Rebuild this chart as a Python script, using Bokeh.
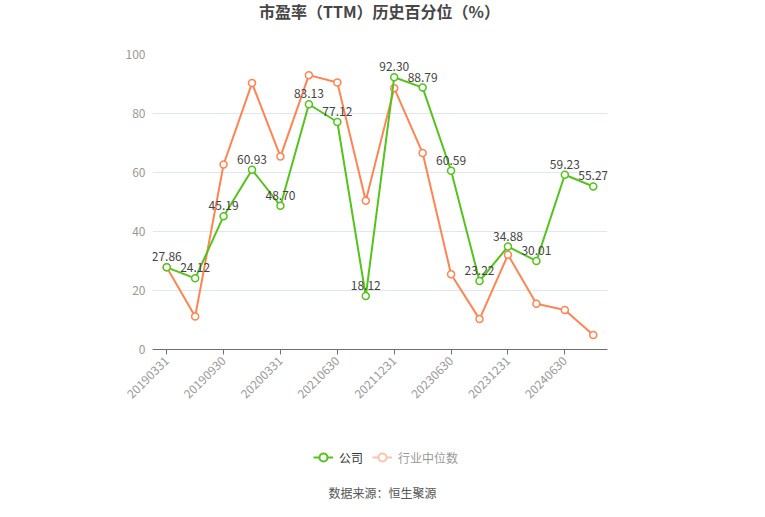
import numpy as np
from bokeh.plotting import figure
from bokeh.layouts import column
from bokeh.models import (ColumnDataSource, FixedTicker, Label, Legend, LegendItem, Range1d)
from bokeh.core.properties import value
from bokeh.embed import file_html
from bokeh.resources import INLINE

categories = ["20190331", "20190630", "20190930", "20191231", "20200331", "20201231",
              "20210630", "20210930", "20211231", "20221231", "20230630", "20230930",
              "20231231", "20240331", "20240630", "20240930"]
company = [27.86, 24.12, 45.19, 60.93, 48.70, 83.13, 77.12, 18.12, 92.30, 88.79,
           60.59, 23.22, 34.88, 30.01, 59.23, 55.27]
industry = [27.9, 11.2, 62.7, 90.3, 65.4, 93.0, 90.5, 50.4, 88.6, 66.6,
            25.5, 10.3, 32.1, 15.5, 13.4, 4.9]
y_ticks = [0, 20, 40, 60, 80, 100]
title_text = "市盈率（TTM）历史百分位（%）"
source_text = "数据来源：恒生聚源"
series_names = ["公司", "行业中位数"]

FONT = "Noto Sans CJK SC"
GREEN = "#52c41a"
ORANGE = "#ff8452"
FADED = "#ffc2aa"
W = 749
H0 = 30
H1 = 390
H2 = 81
FL, FR = 152, 607   # frame left / right


def blank(height):
    b = figure(width=W, height=height, output_backend="svg", toolbar_location=None,
               x_range=Range1d(FL, FR), y_range=Range1d(0, height),
               x_axis_type=None, y_axis_type=None,
               min_border=0, min_border_left=FL, min_border_right=W - FR,
               min_border_top=0, min_border_bottom=0)
    b.outline_line_color = None
    b.grid.visible = False
    b.background_fill_color = "white"
    b.border_fill_color = "white"
    return b


# header with title
hdr = blank(H0)
hdr.add_layout(Label(x=379, y=H0 - 10, text=title_text, text_font=FONT,
                     text_font_size="16px", text_font_style="bold", text_color="#464646",
                     text_align="center", text_baseline="middle"))

idx = list(range(len(categories)))
src = ColumnDataSource(dict(x=idx, c=company, i=industry,
                            lab=[f"{v:.2f}" for v in company]))

p = figure(width=W, height=H1, output_backend="svg", toolbar_location=None,
           x_range=Range1d(-0.5, len(categories) - 0.5), y_range=Range1d(0, 100),
           min_border_left=FL, min_border_right=W - FR, min_border_top=54 - H0,
           min_border_bottom=H0 + H1 - 349)
p.outline_line_color = None
p.background_fill_color = "white"
p.border_fill_color = "white"

# axes
p.yaxis.ticker = FixedTicker(ticks=y_ticks)
p.yaxis.axis_line_color = None
p.yaxis.major_tick_line_color = None
p.yaxis.major_tick_out = 0
p.yaxis.major_tick_in = 0
p.yaxis.minor_tick_line_color = None
p.yaxis.major_label_text_color = "#999999"
p.yaxis.major_label_text_font = FONT
p.yaxis.major_label_text_font_size = "12px"
p.yaxis.major_label_standoff = 7

p.xaxis.ticker = FixedTicker(ticks=idx[::2])
p.xaxis.major_label_overrides = {i: categories[i] for i in idx}
p.xaxis.major_label_orientation = np.pi / 4
p.xaxis.axis_line_color = "#6e7079"
p.xaxis.major_tick_line_color = "#6e7079"
p.xaxis.major_tick_out = 5
p.xaxis.major_tick_in = 0
p.xaxis.minor_tick_line_color = None
p.xaxis.major_label_text_color = "#999999"
p.xaxis.major_label_text_font = FONT
p.xaxis.major_label_text_font_size = "12px"
p.xaxis.major_label_standoff = 4

p.xgrid.grid_line_color = None
p.ygrid.grid_line_color = "#e0e6f1"
p.ygrid.ticker = FixedTicker(ticks=y_ticks)

# series
p.line("x", "i", source=src, line_color=ORANGE, line_width=2)
p.scatter("x", "i", source=src, size=7, marker="circle", fill_color="white",
          line_color=ORANGE, line_width=1.5)
p.line("x", "c", source=src, line_color=GREEN, line_width=2)
p.scatter("x", "c", source=src, size=7, marker="circle", fill_color="white",
          line_color=GREEN, line_width=1.5)

p.text("x", "c", text="lab", source=src, text_font=value(FONT), text_font_size="12px",
       text_color="#444444", text_align="center", text_baseline="bottom", y_offset=-6)

# footer: legend + source
ftr = blank(H2)
nan = [float("nan")]
gl = ftr.line(nan, nan, line_color=GREEN, line_width=2)
gs = ftr.scatter(nan, nan, size=10, marker="circle", fill_color="white",
                 line_color=GREEN, line_width=2)
dl = ftr.line(nan, nan, line_color=FADED, line_width=2)
ds = ftr.scatter(nan, nan, size=10, marker="circle", fill_color="white",
                 line_color=FADED, line_width=2)

for items, lx, color in [([LegendItem(label=series_names[0], renderers=[gl, gs])], 313, "#333333"),
                         ([LegendItem(label=series_names[1], renderers=[dl, ds])], 372, "#999999")]:
    lg = Legend(items=items, location=(lx - FL, 34), orientation="horizontal",
                glyph_width=20, glyph_height=20, label_standoff=6, padding=0, margin=0,
                border_line_color=None, background_fill_alpha=0,
                label_text_font=FONT, label_text_font_size="12px",
                label_text_color=color)
    ftr.add_layout(lg, "center")

ftr.add_layout(Label(x=382, y=9, text=source_text, text_font=FONT,
                     text_font_size="12px", text_color="#555555", text_align="center",
                     text_baseline="middle"))

open("out.html", "w").write(file_html(column(hdr, p, ftr, spacing=0), INLINE))
